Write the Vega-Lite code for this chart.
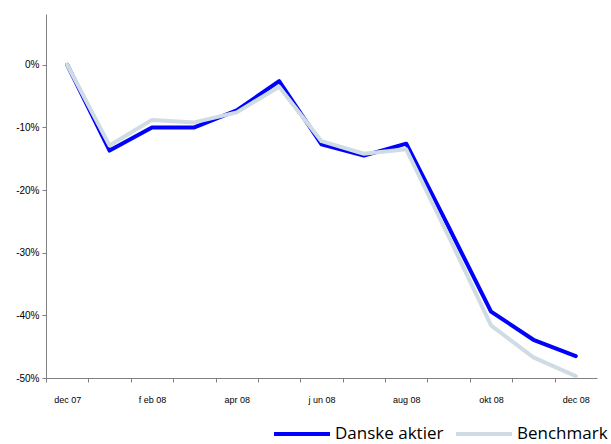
{
  "$schema": "https://vega.github.io/schema/vega-lite/v6.json",
  "width": 551,
  "height": 364,
  "autosize": "none",
  "padding": {"left": 46, "top": 14, "right": 14, "bottom": 66},
  "background": "white",
  "config": {"view": {"stroke": null}},
  "data": {
    "values": [
      {"i": 0, "month": "dec 07", "series": "Danske aktier", "value": 0},
      {"i": 1, "month": "jan 08", "series": "Danske aktier", "value": -13.7},
      {"i": 2, "month": "feb 08", "series": "Danske aktier", "value": -10.0},
      {"i": 3, "month": "mar 08", "series": "Danske aktier", "value": -10.0},
      {"i": 4, "month": "apr 08", "series": "Danske aktier", "value": -7.3},
      {"i": 5, "month": "maj 08", "series": "Danske aktier", "value": -2.6},
      {"i": 6, "month": "jun 08", "series": "Danske aktier", "value": -12.7},
      {"i": 7, "month": "jul 08", "series": "Danske aktier", "value": -14.5},
      {"i": 8, "month": "aug 08", "series": "Danske aktier", "value": -12.6},
      {"i": 9, "month": "sep 08", "series": "Danske aktier", "value": -25.9},
      {"i": 10, "month": "okt 08", "series": "Danske aktier", "value": -39.4},
      {"i": 11, "month": "nov 08", "series": "Danske aktier", "value": -43.9},
      {"i": 12, "month": "dec 08", "series": "Danske aktier", "value": -46.5},
      {"i": 0, "month": "dec 07", "series": "Benchmark", "value": 0},
      {"i": 1, "month": "jan 08", "series": "Benchmark", "value": -12.9},
      {"i": 2, "month": "feb 08", "series": "Benchmark", "value": -8.8},
      {"i": 3, "month": "mar 08", "series": "Benchmark", "value": -9.2},
      {"i": 4, "month": "apr 08", "series": "Benchmark", "value": -7.6},
      {"i": 5, "month": "maj 08", "series": "Benchmark", "value": -3.5},
      {"i": 6, "month": "jun 08", "series": "Benchmark", "value": -12.2},
      {"i": 7, "month": "jul 08", "series": "Benchmark", "value": -14.2},
      {"i": 8, "month": "aug 08", "series": "Benchmark", "value": -13.5},
      {"i": 9, "month": "sep 08", "series": "Benchmark", "value": -27.4},
      {"i": 10, "month": "okt 08", "series": "Benchmark", "value": -41.6},
      {"i": 11, "month": "nov 08", "series": "Benchmark", "value": -46.7},
      {"i": 12, "month": "dec 08", "series": "Benchmark", "value": -49.7}
    ]
  },
  "mark": {"type": "line", "strokeWidth": 4, "strokeJoin": "round", "strokeCap": "round"},
  "encoding": {
    "x": {
      "field": "i",
      "type": "quantitative",
      "scale": {"domain": [-0.5, 12.5], "nice": false, "zero": false},
      "axis": {
        "title": null,
        "values": [0, 1, 2, 3, 4, 5, 6, 7, 8, 9, 10, 11, 12, 13],
        "tickOffset": -21.19,
        "labelOffset": 21.19,
        "labelExpr": "datum.value % 2 == 0 && datum.value <= 12 ? ['dec 07','jan 08','f eb 08','mar 08','apr 08','maj 08','j un 08','jul 08','aug 08','sep 08','okt 08','nov 08','dec 08'][datum.value] : ''",
        "grid": false,
        "domainColor": "#808080",
        "tickColor": "#808080",
        "tickSize": 4,
        "labelFont": "Liberation Sans",
        "labelFontSize": 9,
        "labelColor": "#000000",
        "labelPadding": 13,
        "labelFlush": false,
        "labelOverlap": false
      }
    },
    "y": {
      "field": "value",
      "type": "quantitative",
      "scale": {"domain": [-50, 8.1], "nice": false, "zero": false},
      "axis": {
        "title": null,
        "values": [0, -10, -20, -30, -40, -50],
        "labelExpr": "datum.value + '%'",
        "grid": false,
        "domainColor": "#808080",
        "tickColor": "#808080",
        "tickSize": 4,
        "labelFont": "Liberation Sans",
        "labelFontSize": 10,
        "labelColor": "#000000",
        "labelPadding": 3,
        "labelFlush": false
      }
    },
    "color": {
      "field": "series",
      "type": "nominal",
      "sort": ["Danske aktier", "Benchmark"],
      "scale": {"domain": ["Danske aktier", "Benchmark"], "range": ["#0000ff", "#cfdce4"]},
      "legend": {
        "title": null,
        "orient": "none",
        "legendX": 226,
        "legendY": 390,
        "direction": "horizontal",
        "symbolType": "stroke",
        "symbolSize": 3136,
        "symbolStrokeWidth": 4,
        "labelFont": "Open Sans",
        "labelFontSize": 17,
        "labelColor": "#000000",
        "labelOffset": 3,
        "columnPadding": 4,
        "labelLimit": 300
      }
    },
    "order": {"field": "i"}
  }
}
